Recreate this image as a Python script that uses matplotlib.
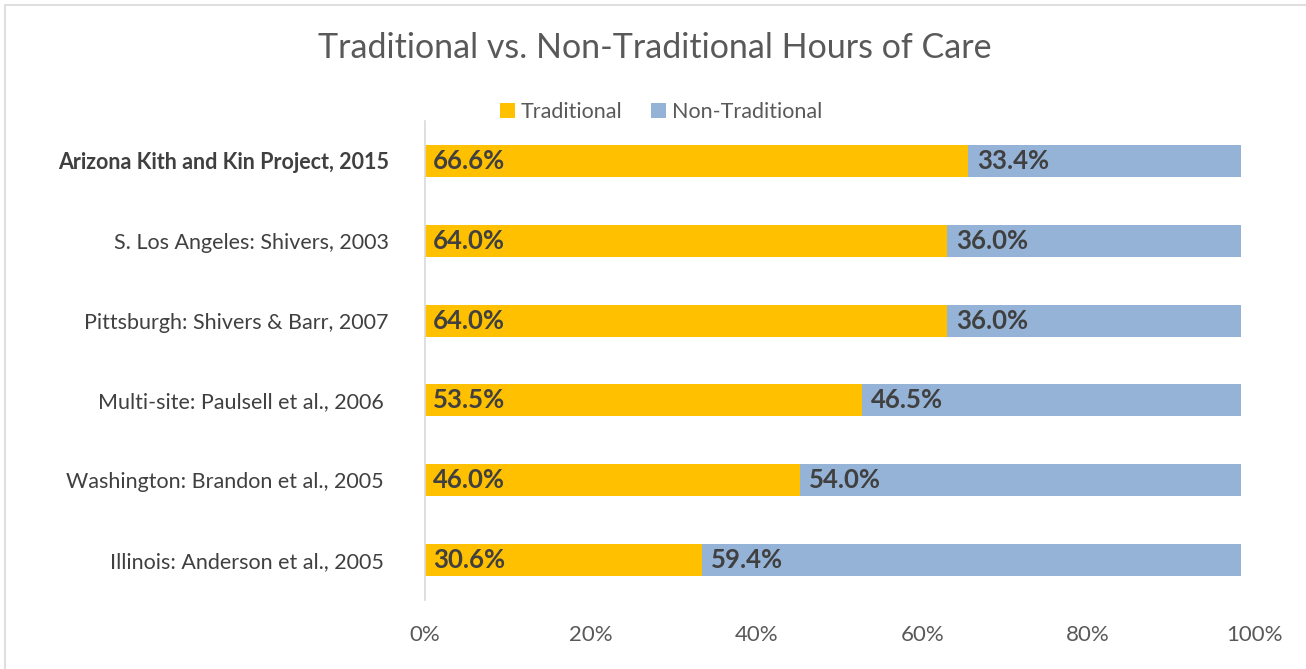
import numpy as np
import matplotlib.pyplot as plt
from matplotlib.patches import Rectangle
from matplotlib.transforms import ScaledTranslation

# data (raw values as labelled)
studies = ['Arizona Kith and Kin Project, 2015',
           'S. Los Angeles: Shivers, 2003',
           'Pittsburgh: Shivers & Barr, 2007',
           'Multi-site: Paulsell et al., 2006 ',
           'Washington: Brandon et al., 2005 ',
           'Illinois: Anderson et al., 2005 ']
traditional = [66.6, 64.0, 64.0, 53.5, 46.0, 30.6]
non_traditional = [33.4, 36.0, 36.0, 46.5, 54.0, 59.4]
tick_vals = [0, 0.2, 0.4, 0.6, 0.8, 1.0]
tick_labels = ['0%', '20%', '40%', '60%', '80%', '100%']

plt.rcParams['font.family'] = ['Lato', 'DejaVu Sans']

yellow = '#FFC000'
blue = '#95B3D7'
dark = '#404040'
grey = '#595959'

trad = np.array(traditional)
non = np.array(non_traditional)
total = trad + non
# 100% stacked: each row is scaled to its own total
trad_share = trad / total
non_share = non / total
y = np.arange(len(studies))

fig = plt.figure(figsize=(13.06, 6.69), dpi=100)
ax = fig.add_axes([425/1306, 1 - 600/669, 816/1306, 479/669])

ax.barh(y, trad_share, height=0.4, color=yellow, label='Traditional')
ax.barh(y, non_share, left=trad_share, height=0.4, color=blue, label='Non-Traditional')

for i in range(len(studies)):
    ax.text(0.01, y[i], '%.1f%%' % traditional[i], ha='left', va='center',
            fontsize=18.5, fontweight='bold', color=dark)
    ax.text(trad_share[i] + 0.011, y[i], '%.1f%%' % non_traditional[i], ha='left',
            va='center', fontsize=18.5, fontweight='bold', color=dark)

ax.set_xlim(0, 1)
ax.set_ylim(len(studies) - 0.5, -0.5)
ax.set_xticks(tick_vals)
ax.set_xticklabels(tick_labels, fontsize=16, color=grey)
ax.set_yticks(y)
ax.set_yticklabels(studies, fontsize=15.5, color=dark)
ax.get_yticklabels()[0].set_fontweight('bold')
ax.tick_params(axis='x', length=0, pad=18)
ax.tick_params(axis='y', length=0, pad=26)
# excel spreads the x labels a little wider than the bars
for k, lab in enumerate(ax.get_xticklabels()):
    lab.set_transform(lab.get_transform() + ScaledTranslation(0.026 * k, 0, fig.dpi_scale_trans))
for s in ['top', 'right', 'bottom']:
    ax.spines[s].set_visible(False)
ax.spines['left'].set_color('#D9D9D9')
ax.spines['left'].set_linewidth(1.2)

fig.text(655/1306, 1 - 48/669, 'Traditional vs. Non-Traditional Hours of Care',
         ha='center', va='center', fontsize=24.5, color=grey)
fig.legend(loc='center', bbox_to_anchor=(661/1306, 1 - 112/669), ncol=2,
           frameon=False, fontsize=15.5, handlelength=0.7, handleheight=0.7,
           handletextpad=0.3, columnspacing=1.3, labelcolor=grey)

fig.patches.append(Rectangle((5/1306, -0.02), 1.1, 1 - 5/669 + 0.02,
                             transform=fig.transFigure, fill=False,
                             edgecolor='#D9D9D9', linewidth=1.2))

fig.savefig('out.png', dpi=100, facecolor='white')
